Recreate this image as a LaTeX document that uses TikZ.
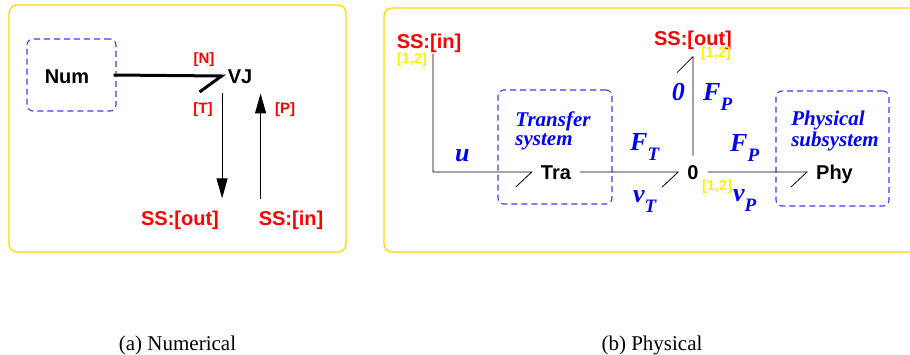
\documentclass[tikz,border=0pt]{standalone}
\usepackage{fontspec}
\setmainfont{Liberation Serif}
\setsansfont{Liberation Sans}
\usetikzlibrary{positioning,arrows.meta}
\definecolor{panelgold}{RGB}{255,215,0}
\definecolor{boxblue}{RGB}{60,60,255}
\newcommand{\bgsub}[1]{\raisebox{-10pt}{\fontsize{19}{19}\selectfont #1}}

\begin{document}
\begin{tikzpicture}[x=1pt,y=-1pt,
  panel/.style={draw=panelgold, line width=1.3pt, rounded corners=8pt},
  subsys/.style={draw=boxblue, dash pattern=on 6pt off 4pt, rounded corners=6pt, line width=1.1pt, inner sep=0pt},
  elem/.style={font=\fontsize{20}{20}\selectfont\sffamily\bfseries, inner sep=9pt, text height=14.5pt, text depth=0pt},
  port/.style={font=\fontsize{20}{20}\selectfont\sffamily\bfseries, text=red, inner sep=1pt, text height=14.6pt, text depth=4.2pt},
  tag/.style={font=\fontsize{15}{15}\selectfont\sffamily\bfseries, text=red, inner sep=0pt},
  dim/.style={font=\fontsize{14.5}{14.5}\selectfont\sffamily\bfseries, text=yellow, inner sep=0pt},
  var/.style={font=\fontsize{26}{26}\selectfont\bfseries\itshape, text=blue, inner sep=0pt, anchor=base west},
  note/.style={font=\fontsize{21}{18.5}\selectfont\bfseries\itshape, text=blue, align=left, inner sep=0pt},
  subcap/.style={font=\fontsize{21}{21}\selectfont, anchor=base},
  bond/.style={draw=black, line width=0.8pt},
  thickbond/.style={draw=black, line width=3pt},
  arr/.style={-{Triangle[length=20pt,width=11pt]}, draw=black, line width=1pt}]
\clip (0,0) rectangle (910,354);
% (a) numerical
\draw[panel] (9,5) rectangle (346,252);
\node[subsys, minimum width=89pt, minimum height=72pt] (numbox) at (71.5,75) {};
\node[elem] (num) at (67,76) {Num};
\node[elem] (vj) at (240,76) {VJ};
\node[tag] (tn) at (204,60) {[N]};
\node[tag] (tt) at (203,110) {[T]};
\node[tag] (tp) at (285,110) {[P]};
\node[port] (ssout) at (180,220) {SS:[out]};
\node[port] (ssin) at (291,220) {SS:[in]};
\draw[thickbond] ([xshift=-3pt]numbox.east) -- ([xshift=3pt]vj.west) -- ++(-22,16);
\draw[arr] ([xshift=2pt,yshift=-1pt]vj.south -| ssout.north east) -- ([xshift=2pt,yshift=11pt]ssout.north east);
\draw[arr] ([xshift=3pt,yshift=10pt]ssin.north west) -- ([xshift=3pt,yshift=-1pt]vj.south -| ssin.north west);
% (b) physical
\draw[panel] (384,8) rectangle (930,252);
\node[subsys, minimum width=114pt, minimum height=114pt] (trabox) at (555,147) {};
\node[subsys, minimum width=113pt, minimum height=115pt] (phybox) at (832.5,148.5) {};
\node[note] (tratext) at (553,131) {Transfer\\system};
\node[note] (phytext) at (835,131) {Physical\\subsystem};
\node[elem] (tra) at (556,172) {Tra};
\node[elem] (zero) at (693,172) {0};
\node[elem] (phy) at (834.5,172) {Phy};
\node[port] (ssinb) at (429,43) {SS:[in]};
\node[port] (ssoutb) at (693,40) {SS:[out]};
\node[dim] (dima) at (412,60) {[1,2]};
\node[dim] (dimb) at (716,54) {[1,2]};
\node[dim] (dimc) at (717,187) {[1,2]};
\node[var] (u) at (455,161.7) {u};
\node[var] (ft) at (630,150) {F\bgsub{T}};
\node[var] (vt) at (633,202) {v\bgsub{T}};
\node[var] (e0) at (671.7,100.7) {0};
\node[var] (fpa) at (703,100) {F\bgsub{P}};
\node[var] (fpb) at (730,151.7) {F\bgsub{P}};
\node[var] (vp) at (733,201.7) {v\bgsub{P}};
\draw[bond] ([xshift=4pt]ssinb.south) |- (tra.west) -- ++(-16,15);
\draw[bond] (tra.east) -- (zero.west) -- ++(-16,15);
\draw[bond] (zero.east) -- (phy.west) -- ++(-16,15);
\draw[bond] (zero.north) -- ([yshift=-6pt]ssoutb.south) -- ++(-16,16);
% captions
\node[subcap] (capa) at (177.5,350) {(a) Numerical};
\node[subcap] (capb) at (652,350) {(b) Physical};
\end{tikzpicture}
\end{document}
